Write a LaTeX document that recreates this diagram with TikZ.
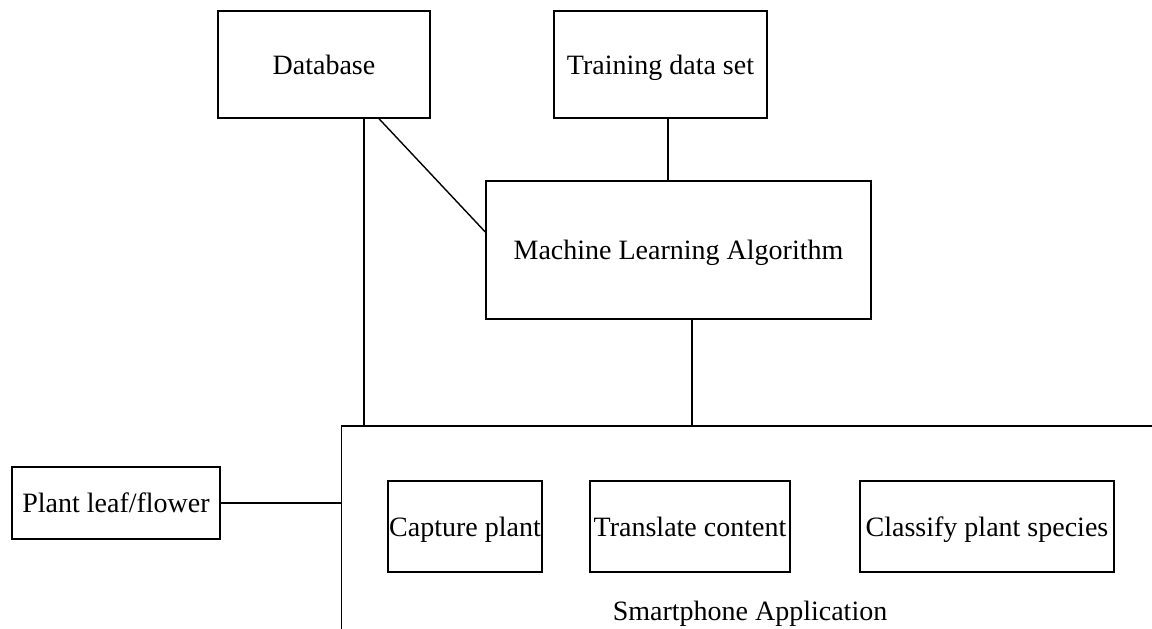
\documentclass[tikz,border=0pt]{standalone}
\usepackage{fontspec}
\setmainfont{Liberation Serif}
\begin{document}
\begin{tikzpicture}[x=1pt,y=-1pt,
  every node/.style={font=\fontsize{28}{34}\selectfont, inner sep=0pt, text height=25pt, text depth=6pt},
  box/.style={draw=black, line width=1.4pt, rectangle, align=center},
  link/.style={draw=black, line width=1.4pt}]
\useasboundingbox (0,0) rectangle (1152,629);
\fill[white] (0,0) rectangle (1152,629);
\node[box, minimum width=212pt, minimum height=107pt] (db) at (324,64.5) {Database};
\node[box, minimum width=213pt, minimum height=107pt] (tr) at (660.5,64.5) {Training data set};
\node[box, minimum width=385pt, minimum height=138pt] (ml) at (678.5,250) {Machine Learning Algorithm};
\node[box, minimum width=208pt, minimum height=72pt] (pl) at (116,503) {Plant leaf/flower};
\node[box, line width=1.8pt, minimum width=900pt, minimum height=400pt, anchor=north west] (app) at (340.5,425) {};
\node (applbl) at (750,611) {Smartphone Application};
\node[box, minimum width=154pt, minimum height=91pt] (cap) at (465,526.5) {Capture plant};
\node[box, minimum width=200pt, minimum height=91pt] (tra) at (690,526.5) {Translate content};
\node[box, minimum width=254pt, minimum height=91pt] (cla) at (987,526.5) {Classify plant species};
\draw[link] ([xshift=40pt]db.south) -- ([xshift=40pt]db.south |- app.north);
\draw[link] ([xshift=55pt]db.south) -- ([yshift=18pt]ml.west);
\draw[link] ([xshift=7.5pt]tr.south) -- ([xshift=7.5pt]tr.south |- ml.north);
\draw[link] ([xshift=13.5pt]ml.south) -- ([xshift=13.5pt]ml.south |- app.north);
\draw[link] (pl.east) -- (pl.east -| app.west);
\end{tikzpicture}
\end{document}
